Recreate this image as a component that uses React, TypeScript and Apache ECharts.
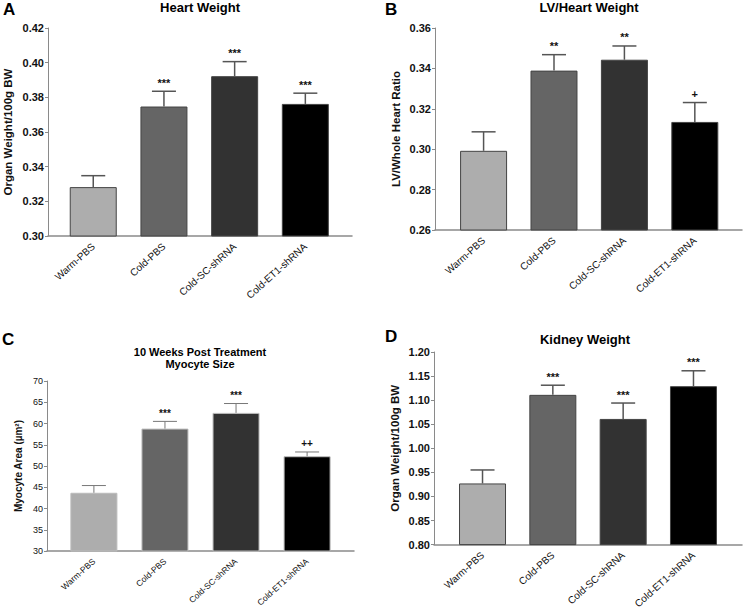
import React, { useEffect, useRef } from "react";
import * as echarts from "echarts";

const categories = ["Warm-PBS", "Cold-PBS", "Cold-SC-shRNA", "Cold-ET1-shRNA"];
const barColors = ["#adadad", "#656565", "#323232", "#000000"];

const heartWeight = [0.3282, 0.3747, 0.3922, 0.3762];
const heartWeightErr = [0.0066, 0.0088, 0.0084, 0.0062];
const heartWeightSig = ["", "***", "***", "***"];

const lvRatio = [0.2992, 0.3389, 0.3443, 0.3135];
const lvRatioErr = [0.0094, 0.0079, 0.0068, 0.0096];
const lvRatioSig = ["", "**", "**", "+"];

const myocyteArea = [43.7, 58.8, 62.5, 52.3];
const myocyteAreaErr = [1.7, 1.7, 2.2, 1.0];
const myocyteSig = ["", "***", "***", "++"];

const kidneyWeight = [0.927, 1.111, 1.061, 1.129];
const kidneyWeightErr = [0.028, 0.02, 0.033, 0.032];
const kidneySig = ["", "***", "***", "***"];

const FONT = "Liberation Sans, Arial, sans-serif";

type Panel = {
  values: number[];
  errs: number[];
  sig: string[];
  grid: { left: number; top: number; width: number; height: number };
  xMin: number;
  xMax: number;
  yMin: number;
  yMax: number;
  yInterval: number;
  decimals: number;
  yName: string;
  nameGap: number;
  small: boolean;
};

const panels: Panel[] = [
  {
    values: heartWeight, errs: heartWeightErr, sig: heartWeightSig,
    grid: { left: 48, top: 28, width: 304, height: 208 },
    xMin: -0.64, xMax: 3.66, yMin: 0.3, yMax: 0.42, yInterval: 0.02, decimals: 2,
    yName: "Organ Weight/100g BW", nameGap: 34, small: false,
  },
  {
    values: lvRatio, errs: lvRatioErr, sig: lvRatioSig,
    grid: { left: 435, top: 28, width: 307, height: 202 },
    xMin: -0.69, xMax: 3.67, yMin: 0.26, yMax: 0.36, yInterval: 0.02, decimals: 2,
    yName: "LV/Whole Heart Ratio", nameGap: 33, small: false,
  },
  {
    values: myocyteArea, errs: myocyteAreaErr, sig: myocyteSig,
    grid: { left: 47, top: 381, width: 307, height: 170 },
    xMin: -0.66, xMax: 3.66, yMin: 30, yMax: 70, yInterval: 5, decimals: 0,
    yName: "Myocyte Area (\u00b5m\u00b2)", nameGap: 24, small: true,
  },
  {
    values: kidneyWeight, errs: kidneyWeightErr, sig: kidneySig,
    grid: { left: 434, top: 352, width: 308, height: 203 },
    xMin: -0.69, xMax: 3.69, yMin: 0.8, yMax: 1.2, yInterval: 0.05, decimals: 2,
    yName: "Organ Weight/100g BW", nameGap: 33, small: false,
  },
];

export default function App() {
  const ref = useRef<HTMLDivElement>(null);

  useEffect(() => {
    document.body.style.margin = "0";
    if (!ref.current) return;
    const chart = echarts.init(ref.current, undefined, { renderer: "svg" });

    const grids: any[] = [];
    const xAxes: any[] = [];
    const yAxes: any[] = [];
    const series: any[] = [];

    panels.forEach((p, k) => {
      grids.push({ ...p.grid, containLabel: false });
      xAxes.push({
        type: "value",
        gridIndex: k,
        min: p.xMin,
        max: p.xMax,
        splitLine: { show: false },
        axisTick: { show: false },
        axisLine: { show: true, onZero: false, lineStyle: { color: "#8a8a8a", width: 1.5 } },
        axisLabel: {
          customValues: [0, 1, 2, 3],
          formatter: (v: number) => categories[Math.round(v)] ?? "",
          rotate: 42,
          margin: 9,
          color: "#111",
          fontFamily: FONT,
          fontSize: p.small ? 8.5 : 10,
        },
      });
      yAxes.push({
        type: "value",
        gridIndex: k,
        min: p.yMin,
        max: p.yMax,
        interval: p.yInterval,
        splitLine: { show: false },
        axisLine: { show: true, onZero: false, lineStyle: { color: "#8a8a8a", width: 1 } },
        axisTick: { show: true, length: 3, lineStyle: { color: "#8a8a8a" } },
        axisLabel: {
          formatter: (v: number) => v.toFixed(p.decimals),
          color: "#111",
          fontFamily: FONT,
          fontSize: p.small ? 9 : 11,
          fontWeight: p.small ? "normal" : "bold",
          margin: 4,
        },
        name: p.yName,
        nameLocation: "middle",
        nameRotate: 90,
        nameGap: p.nameGap,
        nameTextStyle: {
          color: "#111",
          fontFamily: FONT,
          fontSize: p.small ? 10 : 11.5,
          fontWeight: "bold",
        },
      });
      series.push({
        type: "bar",
        xAxisIndex: k,
        yAxisIndex: k,
        barWidth: 47,
        data: p.values.map((v, i) => ({
          value: [i, v],
          itemStyle: {
            color: barColors[i],
            borderColor: p.small ? "#bbbbbb" : "#444444",
            borderWidth: 1,
          },
        })),
      });
      series.push({
        type: "custom",
        xAxisIndex: k,
        yAxisIndex: k,
        z: 5,
        clip: false,
        itemStyle: { color: "#111111" },
        encode: { x: 0, y: 1 },
        data: p.values.map((v, i) => [i, v, p.errs[i]]),
        renderItem: (params: any, api: any) => {
          const i = api.value(0);
          const v = api.value(1);
          const e = api.value(2);
          const p0 = api.coord([i, v]);
          const p1 = api.coord([i, v + e]);
          const stroke = p.small ? "#777777" : "#555555";
          const lw = p.small ? 1 : 1.5;
          return {
            type: "group",
            children: [
              { type: "line", shape: { x1: p0[0], y1: p0[1], x2: p1[0], y2: p1[1] }, style: { stroke, lineWidth: lw, fill: null } },
              { type: "line", shape: { x1: p1[0] - 12, y1: p1[1], x2: p1[0] + 12, y2: p1[1] }, style: { stroke, lineWidth: lw, fill: null } },
              {
                type: "text",
                style: {
                  text: p.sig[params.dataIndex],
                  x: p1[0],
                  y: p1[1] - 3,
                  align: "center",
                  verticalAlign: "bottom",
                  font: `bold ${p.small ? 10 : 11}px ${FONT}`,
                  fill: "#111111",
                },
              },
            ],
          };
        },
      });
    });

    const txt = (text: string, x: number, y: number, size: number, align = "center") => ({
      type: "text",
      x,
      y,
      style: {
        text,
        align,
        verticalAlign: "middle",
        font: `bold ${size}px ${FONT}`,
        fill: "#000",
        lineHeight: size + 1,
      },
    });

    chart.setOption({
      animation: false,
      backgroundColor: "#ffffff",
      grid: grids,
      xAxis: xAxes,
      yAxis: yAxes,
      series,
      graphic: [
        txt("A", 3, 9, 17, "left"),
        txt("Heart Weight", 200, 7, 13),
        txt("B", 385, 9, 17, "left"),
        txt("LV/Heart Weight", 589, 7, 13),
        txt("C", 2, 339, 17, "left"),
        txt("10 Weeks Post Treatment\nMyocyte Size", 200, 358, 11),
        txt("D", 385, 336, 17, "left"),
        txt("Kidney Weight", 585, 339, 13),
      ],
    });

    return () => chart.dispose();
  }, []);

  return <div ref={ref} style={{ width: 743, height: 611 }} />;
}
